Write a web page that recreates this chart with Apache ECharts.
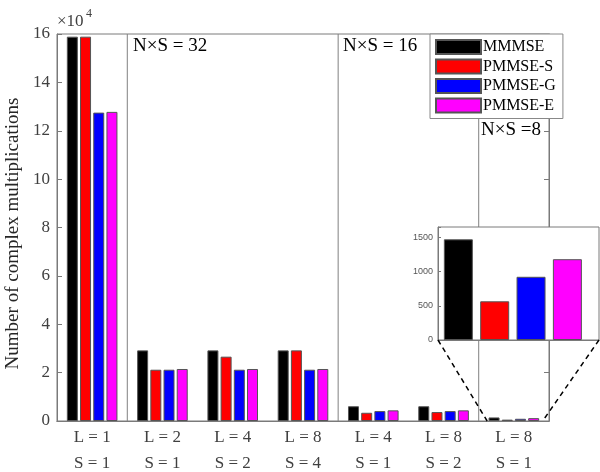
<!DOCTYPE html>
<html>
<head>
<meta charset="utf-8">
<script src="https://cdn.jsdelivr.net/npm/echarts@6/dist/echarts.min.js"></script>
<style>html,body{margin:0;padding:0;background:#fff}#c{width:600px;height:472px}</style>
</head>
<body>
<div id="c"></div>
<script>
// ---- data ----
const Lvals = [1, 2, 4, 8, 4, 8, 8];
const Svals = [1, 1, 2, 4, 1, 2, 1];
const seriesNames = ['MMMSE', 'PMMSE-S', 'PMMSE-G', 'PMMSE-E'];
const mmmse  = [158900, 29200, 29200, 29200, 6100, 6100, 1470];
const pmmseS = [158900, 21200, 26600, 29200, 3400, 3700, 565];
const pmmseG = [127500, 21200, 21200, 21200, 4100, 4100, 923];
const pmmseE = [127800, 21500, 21500, 21500, 4400, 4400, 1180];
const groupLabels = ['N\u00d7S = 32', 'N\u00d7S = 16', 'N\u00d7S =8'];
const separators = [1, 4, 6];           // category boundaries
const insetTicks = [0, 500, 1000, 1500];

const allSeries = [mmmse, pmmseS, pmmseG, pmmseE];
const colors = ['#000000', '#ff0000', '#0000ff', '#ff00ff'];
const categories = Lvals.map((l, i) => 'L = ' + l + '\nS = ' + Svals[i]);
const insetValues = allSeries.map(s => s[s.length - 1]);

const serif = 'Liberation Serif';
const sans = 'Liberation Sans';
const axisGray = '#7a7a7a';

const chart = echarts.init(document.getElementById('c'), null, {renderer: 'canvas'});

const option = {
  animation: false,
  backgroundColor: '#ffffff',
  textStyle: {fontFamily: serif},
  grid: [
    {left: 57, top: 34, width: 492, height: 387, outerBoundsMode: 'none', containLabel: false,
     show: true, borderColor: axisGray, borderWidth: 1, backgroundColor: 'transparent'},
    {left: 438, top: 227, width: 161, height: 113, outerBoundsMode: 'none', containLabel: false,
     show: true, borderColor: axisGray, borderWidth: 1, backgroundColor: '#ffffff', z: 5}
  ],
  legend: {
    orient: 'vertical', left: 430, top: 34, icon: 'rect',
    padding: [5, 7, 5, 5], itemGap: 3.5, itemWidth: 45, itemHeight: 14,
    backgroundColor: '#ffffff', borderColor: '#888', borderWidth: 1,
    textStyle: {fontFamily: serif, fontSize: 16, color: '#000', lineHeight: 16, padding: [0, 0, 0, -3]},
    data: seriesNames
  },
  xAxis: [
    {type: 'category', gridIndex: 0, data: categories, position: 'bottom',
     axisLine: {lineStyle: {color: axisGray}},
     axisTick: {inside: true, alignWithLabel: true, length: 5, lineStyle: {color: axisGray}},
     axisLabel: {fontFamily: serif, fontSize: 17, color: '#404040', lineHeight: 26, margin: 4}},
    {type: 'category', gridIndex: 0, data: categories, position: 'top',
     axisLine: {lineStyle: {color: axisGray}},
     axisTick: {inside: true, alignWithLabel: true, length: 5, lineStyle: {color: axisGray}},
     axisLabel: {show: false}},
    {type: 'value', gridIndex: 0, min: 0, max: categories.length, show: false},
    {type: 'value', gridIndex: 1, min: 0.44, max: 4.87, z: 6,
     axisLine: {lineStyle: {color: axisGray}}, axisTick: {show: false}, axisLabel: {show: false}, splitLine: {show: false}}
  ],
  yAxis: [
    {type: 'value', gridIndex: 0, min: 0, max: 160000, interval: 20000, position: 'left',
     name: 'Number of complex multiplications', nameLocation: 'middle', nameGap: 30,
     nameTextStyle: {fontFamily: serif, fontSize: 19, color: '#262626', padding: [0, 12, 0, 0]},
     axisLine: {show: true, lineStyle: {color: axisGray}},
     axisTick: {show: true, inside: true, length: 5, lineStyle: {color: axisGray}},
     axisLabel: {fontFamily: serif, fontSize: 17, color: '#404040', margin: 7, formatter: v => String(v / 10000)},
     splitLine: {show: false}},
    {type: 'value', gridIndex: 0, min: 0, max: 160000, interval: 20000, position: 'right',
     axisLine: {show: true, lineStyle: {color: axisGray}},
     axisTick: {show: true, inside: true, length: 5, lineStyle: {color: axisGray}},
     axisLabel: {show: false}, splitLine: {show: false}},
    {type: 'value', gridIndex: 1, min: 0, max: 1650, interval: 500, z: 6,
     axisLine: {show: true, lineStyle: {color: axisGray}},
     axisTick: {show: true, inside: true, length: 3, lineStyle: {color: axisGray}},
     axisLabel: {fontFamily: sans, fontSize: 9, color: '#555', margin: 5,
                 formatter: v => (insetTicks.indexOf(v) >= 0 ? String(v) : '')},
     splitLine: {show: false}}
  ],
  series: [
    ...seriesNames.map((n, i) => ({
      name: n, type: 'bar', xAxisIndex: 0, yAxisIndex: 0,
      data: allSeries[i], barWidth: 11, barGap: '20%',
      itemStyle: {color: colors[i], borderColor: '#555', borderWidth: 1}
    })),
    {
      name: 'sep', type: 'custom', xAxisIndex: 2, yAxisIndex: 0, silent: true, z: 1,
      data: separators.map(v => [v, 0]),
      renderItem: (params, api) => {
        const p0 = api.coord([api.value(0), 0]);
        const p1 = api.coord([api.value(0), 160000]);
        return {type: 'line', shape: {x1: p0[0], y1: p0[1], x2: p1[0], y2: p1[1]},
                style: {stroke: '#808080', lineWidth: 1}};
      }
    },
    {
      name: 'inset', type: 'bar', xAxisIndex: 3, yAxisIndex: 2, z: 7, barWidth: 29,
      data: insetValues.map((v, i) => ({value: [i + 1, v], itemStyle: {color: colors[i]}})),
      itemStyle: {borderColor: '#555', borderWidth: 1}
    }
  ],
  graphic: [
    {type: 'text', left: 57, top: 13, style: {text: '\u00d710', fontFamily: serif, fontSize: 17, fill: '#404040'}},
    {type: 'text', left: 86, top: 8, style: {text: '4', fontFamily: serif, fontSize: 12, fill: '#404040'}},
    {type: 'text', left: 133, top: 37, style: {text: groupLabels[0], fontFamily: serif, fontSize: 19, fill: '#000'}},
    {type: 'text', left: 343, top: 37, style: {text: groupLabels[1], fontFamily: serif, fontSize: 19, fill: '#000'}},
    {type: 'text', left: 481, top: 121, style: {text: groupLabels[2], fontFamily: serif, fontSize: 19, fill: '#000'}}
  ]
};
chart.setOption(option);

// dashed connectors from the inset to the zoomed group
const gL = chart.convertToPixel({xAxisIndex: 3, yAxisIndex: 2}, [0.44, 0]);
const gR = chart.convertToPixel({xAxisIndex: 3, yAxisIndex: 2}, [4.87, 0]);
const mL = chart.convertToPixel({xAxisIndex: 2, yAxisIndex: 0}, [6.12, 0]);
const mR = chart.convertToPixel({xAxisIndex: 2, yAxisIndex: 0}, [6.91, 0]);
chart.setOption({
  graphic: option.graphic.concat([
    {type: 'line', z: 8, shape: {x1: gL[0], y1: gL[1], x2: mL[0], y2: mL[1]}, style: {stroke: '#000', lineWidth: 1.5, lineDash: [5, 4]}},
    {type: 'line', z: 8, shape: {x1: gR[0], y1: gR[1], x2: mR[0], y2: mR[1]}, style: {stroke: '#000', lineWidth: 1.5, lineDash: [5, 4]}}
  ])
});
</script>
</body>
</html>
